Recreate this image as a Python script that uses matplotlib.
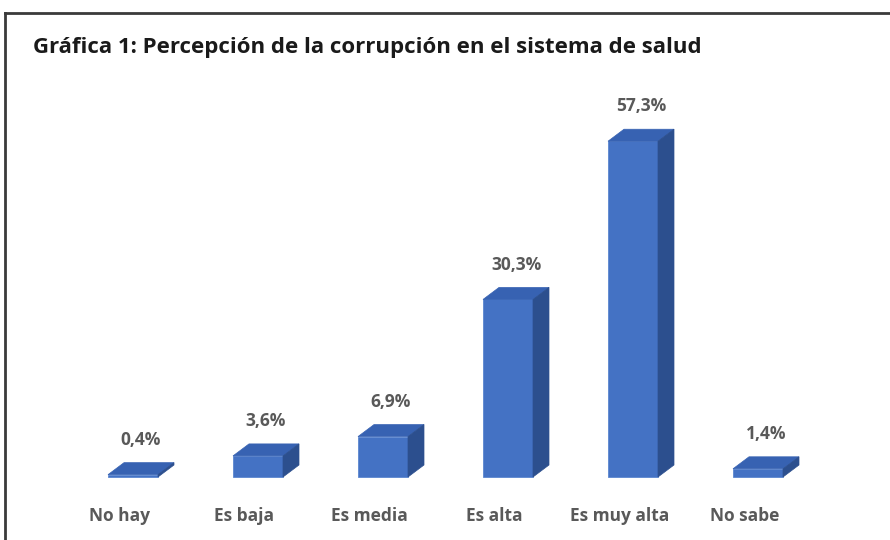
import matplotlib
matplotlib.use("Agg")
import matplotlib.pyplot as plt
from matplotlib.patches import Polygon
from matplotlib.lines import Line2D

categories = ["No hay", "Es baja", "Es media", "Es alta", "Es muy alta", "No sabe"]
values = [0.4, 3.6, 6.9, 30.3, 57.3, 1.4]
value_labels = ["0,4%", "3,6%", "6,9%", "30,3%", "57,3%", "1,4%"]
title = "Gráfica 1: Percepción de la corrupción en el sistema de salud"

W, H = 890, 540
fig = plt.figure(figsize=(W / 100, H / 100), dpi=100)
ax = fig.add_axes([0, 0, 1, 1])
# pixel mapping: front centre x = 133 + 125*i ; y baseline at 477 px, 5.86 px per %
x0, sx = 133.0, 125.0
y0, sy = 477.0, 5.86
ax.set_xlim(-x0 / sx, (W - x0) / sx)
ax.set_ylim((y0 - H) / sy, y0 / sy)
ax.axis("off")

front_c = "#4472C4"
top_c = "#3762B2"
side_c = "#2C4F8E"
bw = 0.40
dx = 16 / sx
dy = 12 / sy

xs = list(range(len(categories)))
ax.bar(xs, values, width=bw, color=front_c, edgecolor="#5B86D0", linewidth=0.6, zorder=3)
for x, v in zip(xs, values):
    l, r = x - bw / 2, x + bw / 2
    top = Polygon([(l, v), (r, v), (r + dx, v + dy), (l + dx, v + dy)],
                  closed=True, facecolor=top_c, edgecolor=top_c, linewidth=0.5, zorder=3)
    side = Polygon([(r, 0), (r + dx, dy), (r + dx, v + dy), (r, v)],
                   closed=True, facecolor=side_c, edgecolor=side_c, linewidth=0.5, zorder=3)
    ax.add_patch(top)
    ax.add_patch(side)

lab_c = "#595959"
for x, v, t in zip(xs, values, value_labels):
    ax.text(x + dx / 2, v + dy + 3.9, t, ha="center", va="center", fontsize=12.5,
            fontweight="bold", color=lab_c, family="Open Sans")
for x, c in zip(xs, categories):
    ax.text(x - 0.11, -6.7, c, ha="center", va="center", fontsize=12.5,
            fontweight="bold", color=lab_c, family="Open Sans")

fig.text(33 / W, 1 - 47 / H, title, ha="left", va="center", fontsize=16,
         fontweight="bold", color="#1a1a1a", family="Open Sans")

# chart border (left and top edges visible)
fig.add_artist(Line2D([5 / W, 5 / W], [0, 1 - 13 / H], transform=fig.transFigure,
                      color="#3a3a3a", linewidth=2))
fig.add_artist(Line2D([5 / W, 1], [1 - 13 / H, 1 - 13 / H], transform=fig.transFigure,
                      color="#3a3a3a", linewidth=2))

fig.savefig("out.png", dpi=100, facecolor="white")
